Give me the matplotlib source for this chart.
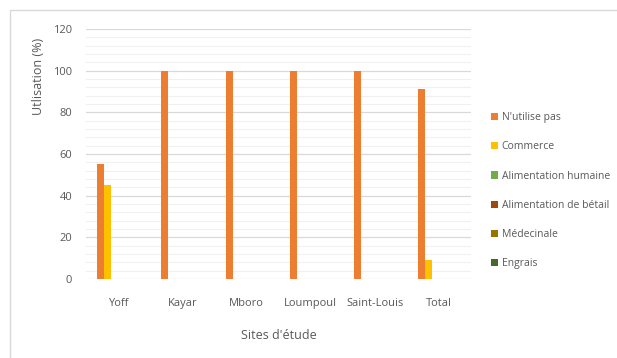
import matplotlib.pyplot as plt
from matplotlib.patches import Rectangle
from matplotlib.ticker import MultipleLocator
import numpy as np

plt.rcParams['font.family'] = ['Open Sans', 'DejaVu Sans']

sites = ["Yoff", "Kayar", "Mboro", "Loumpoul", "Saint-Louis", "Total"]
series = ["N'utilise pas", "Commerce", "Alimentation humaine",
          "Alimentation de bétail", "Médecinale", "Engrais"]
n_utilise_pas = [55, 100, 100, 100, 100, 91]
commerce = [45, 0, 0, 0, 0, 9]
alim_humaine = [0, 0, 0, 0, 0, 0]
alim_betail = [0, 0, 0, 0, 0, 0]
medecinale = [0, 0, 0, 0, 0, 0]
engrais = [0, 0, 0, 0, 0, 0]

valeurs = [n_utilise_pas, commerce, alim_humaine, alim_betail, medecinale, engrais]
couleurs = ["#ED7D31", "#FFC000", "#70AD47", "#9E480E", "#997300", "#43682B"]
gris = "#595959"

fig = plt.figure(figsize=(6.17, 3.58), dpi=100)
# cadre gris clair autour du graphique
fig.patches.append(Rectangle((10 / 617, -0.1), 1.0, 1 - 10 / 358 + 0.1,
                             transform=fig.transFigure, fill=False,
                             edgecolor="#d9d9d9", linewidth=1.0))
ax = fig.add_axes([86 / 617, 1 - 279 / 358, 385 / 617, 250 / 358])

x = np.arange(len(sites))
w = 0.108
for i, (vals, nom, c) in enumerate(zip(valeurs, series, couleurs)):
    ax.bar(x + (i - 2.5) * w, vals, width=w, color=c, label=nom, zorder=3)

ax.set_xlim(-0.5, len(sites) - 0.5)
ax.set_ylim(0, 120)
ax.yaxis.set_major_locator(MultipleLocator(20))
ax.yaxis.set_minor_locator(MultipleLocator(4))
ax.grid(axis="y", which="major", color="#d9d9d9", linewidth=0.9, zorder=0)
ax.grid(axis="y", which="minor", color="#f0f0f0", linewidth=0.8, zorder=0)
for s in ax.spines.values():
    s.set_visible(False)
ax.tick_params(axis="both", which="both", length=0, colors=gris, labelsize=8)
ax.tick_params(axis="x", pad=14)
ax.tick_params(axis="y", pad=10)
ax.set_xticks(x)
ax.set_xticklabels(sites)

ax.set_ylabel("Utlisation (%)", color=gris, fontsize=9)
ax.yaxis.set_label_coords(-0.106, 0.81)
ax.set_xlabel("Sites d'étude", color=gris, fontsize=9, labelpad=14)

fig.legend(loc="upper left", bbox_to_anchor=(487 / 617, 1 - 108 / 358),
           frameon=False, fontsize=7.5, labelcolor=gris, handlelength=0.7,
           handleheight=0.7, handletextpad=0.3, labelspacing=1.75,
           borderaxespad=0)

fig.savefig("out.png", dpi=100)
